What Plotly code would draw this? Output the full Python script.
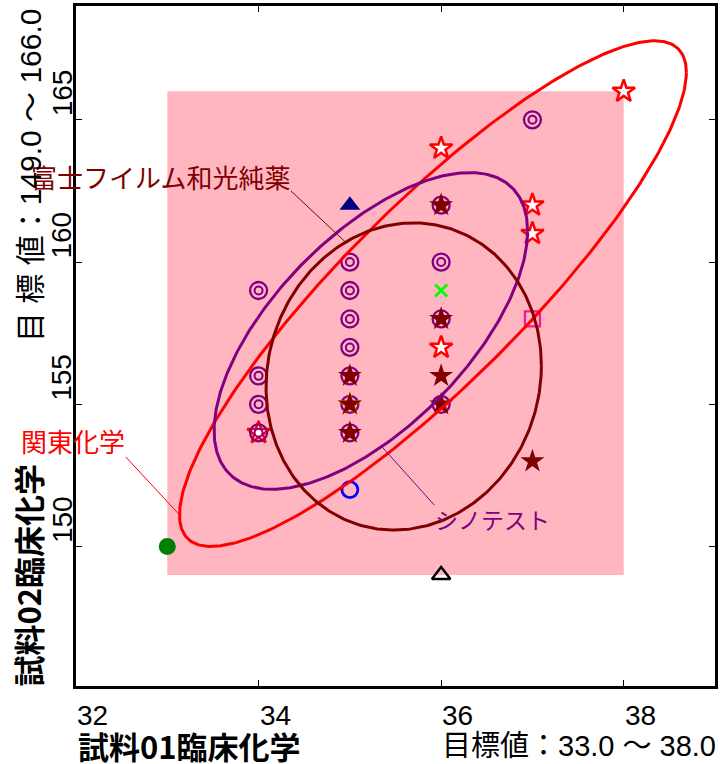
import numpy as np
import plotly.graph_objects as go

# ---------------- data ----------------
target_x = [33.0, 38.0]
target_y = [149.0, 166.0]

x_ticks = [32, 34, 36, 38]
y_ticks = [145, 150, 155, 160, 165]

# シノテスト (purple double circles)
shino_x = [34, 34, 34, 34, 35, 35, 35, 35, 35, 35, 35, 36, 36, 36, 36, 37]
shino_y = [159, 156, 155, 154, 160, 159, 158, 157, 156, 155, 154, 162, 160, 158, 155, 165]
# 富士フイルム和光純薬 (maroon filled stars)
fuji_x = [35, 35, 35, 36, 36, 36, 36, 37]
fuji_y = [156, 155, 154, 162, 158, 156, 155, 153]
# 関東化学 (red open stars)
kanto_x = [34, 36, 36, 37, 37, 38]
kanto_y = [154, 157, 164, 161, 162, 166]
# other participants
orange_x = [35]
orange_y = [155]
navy_x = [35]
navy_y = [162]
lime_x = [36]
lime_y = [159]
blue_x = [35]
blue_y = [152]
black_x = [36]
black_y = [149]
green_x = [33.0]
green_y = [150]
pink_x = [37]
pink_y = [158]

# ellipses: 関東化学, シノテスト, 富士フイルム和光純薬
ell_names = ["関東化学", "シノテスト", "富士フイルム和光純薬"]
ell_cx = [35.91, 35.23, 35.59]
ell_cy = [158.89, 157.58, 155.98]
ell_sx = [2.776, 1.717, 1.508]
ell_sy = [8.886, 5.565, 5.398]
ell_rho = [0.875, 0.63, 0.07]
ell_colors = ["#FF0000", "#800080", "#800000"]
# label anchor (text end of leader line) and attach angle on ellipse (deg)
lab_x = [32.545, 35.925, 34.355]
lab_y = [153.15, 151.46, 162.50]
lab_t = [180, -86, 115]
lab_size = [26, 23, 26]
lab_xanchor = ["right", "left", "right"]
lab_yanchor = ["bottom", "top", "bottom"]
lab_yshift = [-3, 4, -5]


def ell_point(i, t):
    r = ell_rho[i]
    x = ell_cx[i] + ell_sx[i] * np.cos(t)
    y = ell_cy[i] + ell_sy[i] * (r * np.cos(t) + np.sqrt(1 - r * r) * np.sin(t))
    return x, y


fig = go.Figure()

fig.add_shape(type="rect", x0=target_x[0], x1=target_x[1], y0=target_y[0], y1=target_y[1],
              fillcolor="#FFB6C1", line=dict(width=0), layer="below")

# 関東化学 red open stars (under purple)
fig.add_trace(go.Scatter(x=kanto_x, y=kanto_y, mode="markers",
                         marker=dict(symbol="star", size=17, color="white",
                                     line=dict(color="#FF0000", width=2.5))))
# シノテスト double circles
fig.add_trace(go.Scatter(x=shino_x, y=shino_y, mode="markers",
                         marker=dict(symbol="circle-open", size=17, color="#800080",
                                     line=dict(color="#800080", width=2.3))))
fig.add_trace(go.Scatter(x=shino_x, y=shino_y, mode="markers",
                         marker=dict(symbol="circle-open", size=8, color="#800080",
                                     line=dict(color="#800080", width=2))))
# orange star under maroon
fig.add_trace(go.Scatter(x=orange_x, y=orange_y, mode="markers",
                         marker=dict(symbol="star", size=19, color="#E8A000")))
# 富士 maroon stars
fig.add_trace(go.Scatter(x=fuji_x, y=fuji_y, mode="markers",
                         marker=dict(symbol="star", size=18, color="#800000")))
# others
fig.add_trace(go.Scatter(x=navy_x, y=navy_y, mode="markers",
                         marker=dict(symbol="triangle-up", size=18, color="#000080")))
fig.add_trace(go.Scatter(x=lime_x, y=lime_y, mode="markers",
                         marker=dict(symbol="x-thin-open", size=12, color="#00FF00",
                                     line=dict(color="#00FF00", width=2.8))))
fig.add_trace(go.Scatter(x=blue_x, y=blue_y, mode="markers",
                         marker=dict(symbol="circle-open", size=16, color="#0000FF",
                                     line=dict(color="#0000FF", width=2.8))))
fig.add_trace(go.Scatter(x=black_x, y=black_y, mode="markers",
                         marker=dict(symbol="triangle-up-open", size=16, color="black",
                                     line=dict(color="black", width=2.5))))
fig.add_trace(go.Scatter(x=green_x, y=green_y, mode="markers",
                         marker=dict(symbol="circle", size=17, color="#008000")))
fig.add_trace(go.Scatter(x=pink_x, y=pink_y, mode="markers",
                         marker=dict(symbol="square-open", size=15, color="#FF1493",
                                     line=dict(color="#FF1493", width=2.3))))

# ellipses
tt = np.linspace(0, 2 * np.pi, 361)
for i in range(3):
    ex, ey = ell_point(i, tt)
    fig.add_trace(go.Scatter(x=ex, y=ey, mode="lines",
                             line=dict(color=ell_colors[i], width=3)))

ann = []
jp = "Noto Sans CJK JP"
num = "Liberation Sans, Arial, " + jp
for i in range(3):
    px, py = ell_point(i, np.deg2rad(lab_t[i]))
    fig.add_shape(type="line", x0=lab_x[i], y0=lab_y[i], x1=float(px), y1=float(py),
                  line=dict(color=ell_colors[i], width=1))
    ann.append(dict(x=lab_x[i], y=lab_y[i], xref="x", yref="y", text=ell_names[i],
                    showarrow=False, xanchor=lab_xanchor[i], yanchor=lab_yanchor[i],
                    yshift=lab_yshift[i],
                    font=dict(family=jp, size=lab_size[i], color=ell_colors[i]),
                    borderpad=0))

for v in x_ticks:
    ann.append(dict(x=v, y=0, xref="x", yref="paper", text=str(v), showarrow=False,
                    xanchor="left", yanchor="middle", yshift=-29, borderpad=0,
                    font=dict(family=num, size=28, color="black")))
for v in y_ticks:
    ann.append(dict(x=0, y=v, xref="paper", yref="y", text=str(v), showarrow=False,
                    xanchor="center", yanchor="bottom", xshift=-14, yshift=2, textangle=-90,
                    borderpad=0, font=dict(family=num, size=28, color="black")))

ann.append(dict(x=0, y=0, xref="paper", yref="paper", text="<b>試料01臨床化学</b>",
                showarrow=False, xanchor="left", yanchor="middle", xshift=1, yshift=-59,
                borderpad=0, font=dict(family=jp, size=31, color="black")))
ann.append(dict(x=1, y=0, xref="paper", yref="paper",
                text=f"目標値：{target_x[0]:.1f} ～ {target_x[1]:.1f}",
                showarrow=False, xanchor="right", yanchor="middle", xshift=2, yshift=-60,
                borderpad=0, font=dict(family=num, size=29, color="black")))
ann.append(dict(x=0, y=0, xref="paper", yref="paper", text="<b>試料02臨床化学</b>",
                showarrow=False, xanchor="center", yanchor="bottom", xshift=-49, yshift=-2,
                textangle=-90, borderpad=0, font=dict(family=jp, size=31, color="black")))
ann.append(dict(x=0, y=1, xref="paper", yref="paper",
                text=f"目 標 値：{target_y[0]:.1f} ～ {target_y[1]:.1f}",
                showarrow=False, xanchor="center", yanchor="top", xshift=-46, yshift=-1,
                textangle=-90, borderpad=0, font=dict(family=num, size=30, color="black")))

axis_common = dict(showgrid=False, zeroline=False, showline=True, linecolor="black",
                   linewidth=3, mirror="allticks", ticks="inside", ticklen=6, tickwidth=1,
                   tickcolor="black", showticklabels=False)
fig.update_layout(
    width=720, height=764,
    margin=dict(l=76, r=2, t=6, b=78),
    plot_bgcolor="white", paper_bgcolor="white",
    showlegend=False,
    xaxis=dict(range=[32, 39], tickvals=x_ticks, **axis_common),
    yaxis=dict(range=[145.1, 169], tickvals=y_ticks, **axis_common),
    annotations=ann,
)

fig.write_html("out.html", config={"displayModeBar": False},
               post_script="document.body.style.margin='0';")
